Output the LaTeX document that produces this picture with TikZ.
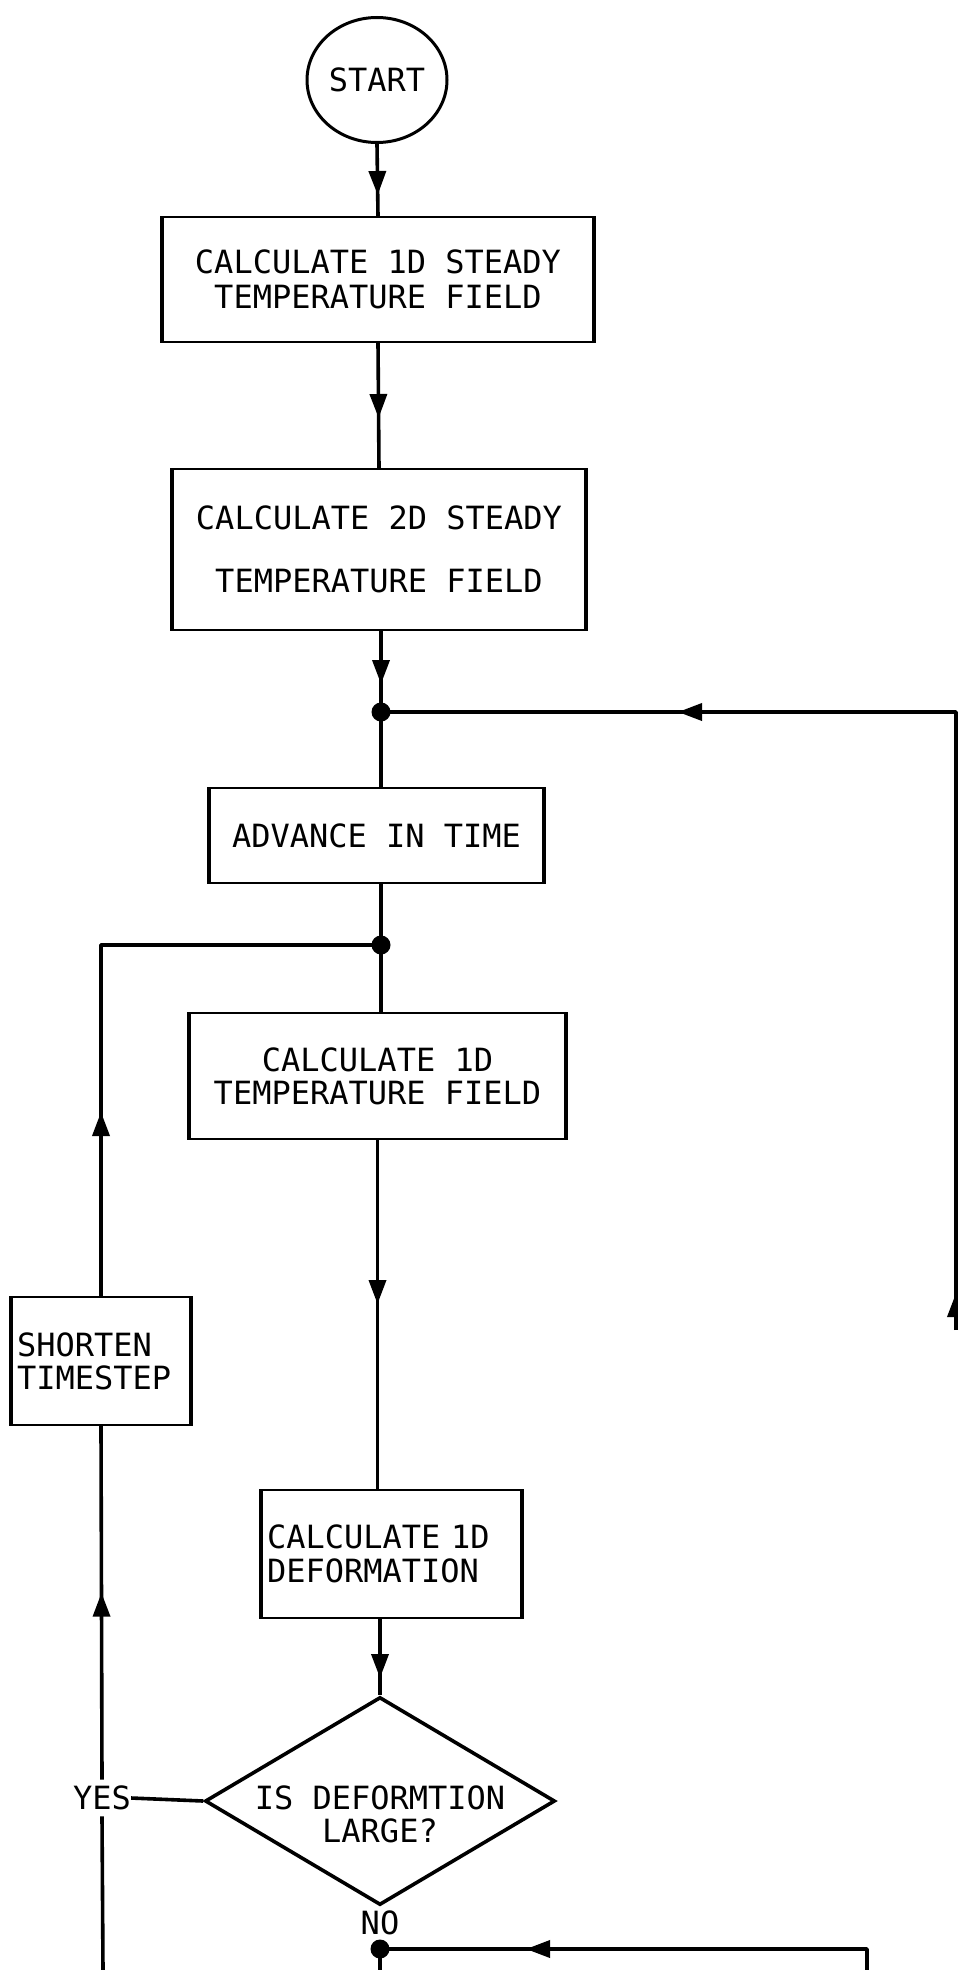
\documentclass[tikz,border=0pt]{standalone}
\usepackage{fontspec}
\newfontfamily\plotfont{DejaVu Sans Mono}
\usetikzlibrary{shapes.geometric,decorations.markings,arrows.meta}
\begin{document}
\begin{tikzpicture}[x=1pt,y=-1pt,
  every node/.style={font=\plotfont\fontsize{32}{33}\selectfont, text=black},
  procbox/.style={draw, line width=2pt, inner sep=0pt, align=center},
  sidebar/.style={line width=3.6pt},
  conn/.style={line width=3.6pt, line join=round},
  arr/.style={postaction={decorate, decoration={markings, mark=at position #1 with {\arrow{Triangle[length=24pt,width=17pt]}}}}},
  jdot/.style={circle, fill=black, inner sep=0pt, minimum size=19pt},
  lbl/.style={inner xsep=0pt, inner ysep=6pt}
]
\useasboundingbox (0,0) rectangle (958,1970);

% nodes
\node[ellipse, draw, line width=3pt, minimum width=140pt, minimum height=125pt, inner sep=0pt] (start) at (377,80) {START};
\node[procbox, minimum width=430pt, minimum height=125pt] (box1) at (378,279.5) {CALCULATE 1D STEADY\\[2pt]TEMPERATURE FIELD};
\node[procbox, minimum width=412pt, minimum height=161pt] (box2) at (379,549.5) {CALCULATE 2D STEADY\\[30pt]TEMPERATURE FIELD};
\node[jdot] (j1) at (381,712) {};
\node[procbox, minimum width=333pt, minimum height=95pt] (box3) at (376.5,835.5) {ADVANCE IN TIME};
\node[jdot] (j2) at (381,945) {};
\node[procbox, minimum width=375pt, minimum height=126pt] (box4) at (377.5,1076) {CALCULATE 1D\\TEMPERATURE FIELD};
\node[procbox, align=left, text width=249pt, inner xsep=5pt, minimum height=128pt] (box5) at (391.5,1554) {CALCULATE 1D\\[1pt]DEFORMATION};
\node[procbox, align=left, text width=168pt, inner xsep=5pt, minimum height=128pt] (shorten) at (101,1361) {SHORTEN\\TIMESTEP};
\node[diamond, draw, line width=3.6pt, aspect=1.7, inner sep=0pt, minimum width=350pt, minimum height=208pt] (dia) at (380,1801) {};
\node[align=center, inner sep=0pt] (diatext) at (380,1814) {IS DEFORMTION\\LARGE?};
\node[lbl] (yes) at (102,1798) {YES};
\node[inner sep=0pt] (no) at (380,1923) {NO};
\node[jdot] (j3) at (380,1949) {};

\coordinate (rb) at (956,1330);
\coordinate (lb) at (103,1970);
\coordinate (nb) at (380,1970);
\coordinate (rb2) at (867,1970);

% thick box sides
\foreach \b in {box1,box2,box3,box4,box5,shorten}
  \draw[sidebar] (\b.north west) -- (\b.south west) (\b.north east) -- (\b.south east);

% connectors
\draw[conn, arr=51pt] (start.south) -- (box1.north);
\draw[conn, arr=75pt] (box1.south) -- (box2.north);
\draw[conn, arr=53pt] (j1.center |- box2.south) -- (j1.center);
\draw[conn] (j1.center) -- (j1.center |- box3.north);
\draw[conn, arr=37pt, arr=896pt] (rb) |- (j1.center);
\draw[conn] (j2.center |- box3.south) -- (j2.center);
\draw[conn] (j2.center) -- (j2.center |- box4.north);
\draw[conn, arr=164pt] (box4.south) -- (box4.south |- box5.north);
\draw[conn, arr=59pt] (dia.north |- box5.south) -- (dia.north);
\draw[conn] (dia.west) -- (yes.east);
\draw[conn] (lb) -- (yes.south);
\draw[conn, arr=187pt] (yes.north) -- (shorten.south);
\draw[conn, arr=184pt] (shorten.north) |- (j2.center);
\draw[conn] (j3.center) -- (nb);
\draw[conn, arr=362pt] (rb2) |- (j3.center);
\end{tikzpicture}
\end{document}
